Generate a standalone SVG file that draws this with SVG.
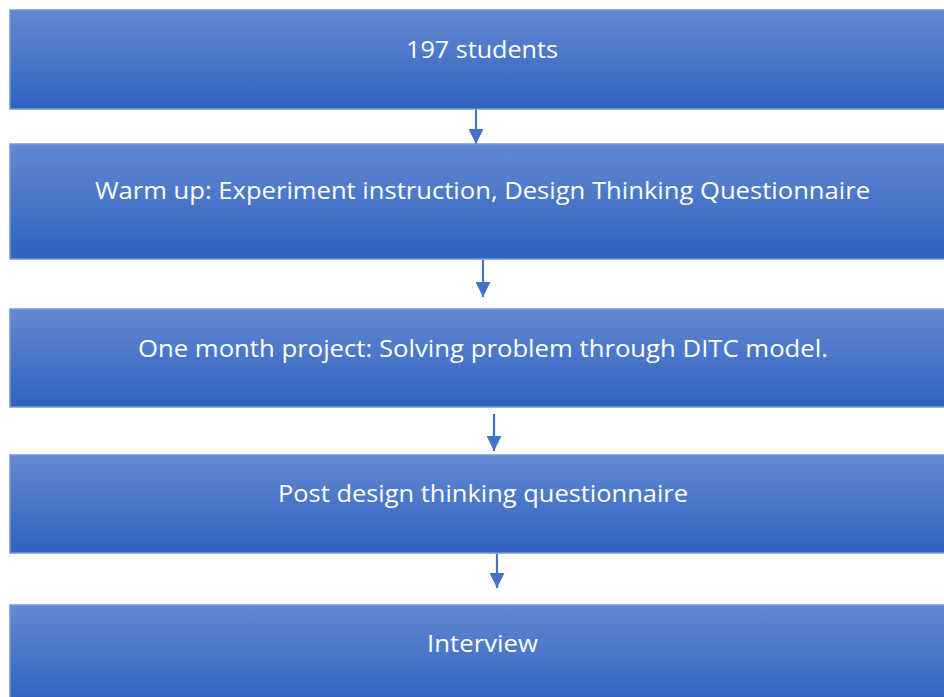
<svg xmlns="http://www.w3.org/2000/svg" width="944" height="697" viewBox="0 0 944 697">
<defs>
<linearGradient id="g" x1="0" y1="0" x2="0" y2="1">
<stop offset="0" stop-color="#6288d0"/>
<stop offset="0.5" stop-color="#4a76c9"/>
<stop offset="1" stop-color="#2f62be"/>
</linearGradient>
<marker id="ah" markerUnits="userSpaceOnUse" markerWidth="16" markerHeight="15" refX="15" refY="7.5" orient="auto">
<path d="M0,0 L15,7.5 L0,15 Z" fill="#4472c4"/>
</marker>
<style>
.box{fill:url(#g);stroke:#7397d8;stroke-width:1.5}
.t{font-family:"Open Sans","Noto Sans","Liberation Sans",sans-serif;font-size:23px;fill:#ffffff;text-anchor:middle}
.c{stroke:#4472c4;stroke-width:2.2;fill:none;marker-end:url(#ah)}
</style>
</defs>
<rect width="944" height="697" fill="#ffffff"/>
<g id="connectors">
<line class="c" x1="476" y1="109" x2="476" y2="144"/>
<line class="c" x1="483" y1="260" x2="483" y2="297"/>
<line class="c" x1="494" y1="414" x2="494" y2="451"/>
<line class="c" x1="497" y1="554" x2="497" y2="588"/>
</g>
<g id="n1">
<rect class="box" x="10" y="10" width="950" height="99"/>
<text class="t" x="482" y="58" textLength="152" lengthAdjust="spacingAndGlyphs">197 students</text>
</g>
<g id="n2">
<rect class="box" x="10" y="144" width="950" height="115"/>
<text class="t" x="482.5" y="199" textLength="775" lengthAdjust="spacingAndGlyphs">Warm up: Experiment instruction, Design Thinking Questionnaire</text>
</g>
<g id="n3">
<rect class="box" x="10" y="309" width="950" height="98"/>
<text class="t" x="483" y="357" textLength="690" lengthAdjust="spacingAndGlyphs">One month project: Solving problem through DITC model.</text>
</g>
<g id="n4">
<rect class="box" x="10" y="455" width="950" height="98"/>
<text class="t" x="483" y="502" textLength="410" lengthAdjust="spacingAndGlyphs">Post design thinking questionnaire</text>
</g>
<g id="n5">
<rect class="box" x="10" y="605" width="950" height="100"/>
<text class="t" x="482.5" y="652" textLength="111" lengthAdjust="spacingAndGlyphs">Interview</text>
</g>
</svg>
